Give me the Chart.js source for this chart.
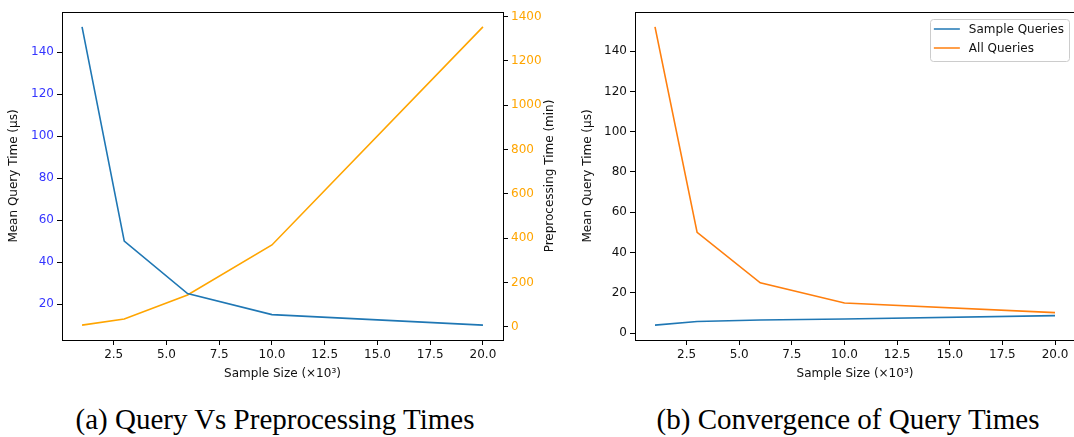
<!DOCTYPE html>
<html><head><meta charset="utf-8">
<script src="https://cdn.jsdelivr.net/npm/chart.js@4"></script>
<style>
body{margin:0;width:1074px;height:437px;overflow:hidden;background:#fff;position:relative;}
#c1{position:absolute;left:0;top:0;}
#c2{position:absolute;left:575px;top:0;}
.cap{position:absolute;top:402px;font-family:"Liberation Serif",serif;font-size:29px;color:#000;white-space:nowrap;transform:translateX(-50%);line-height:34px;}
</style></head><body>
<canvas id="c1" width="570" height="390"></canvas>
<canvas id="c2" width="505" height="390"></canvas>
<div class="cap" style="left:275px">(a) Query Vs Preprocessing Times</div>
<div class="cap" style="left:848px">(b) Convergence of Query Times</div>
<script>
const sampleSizes=[1,3,6,10,20];
const meanQueryTime=[152,50,25,15,10];
const preprocessingTime=[7,35,143,369,1354];
const sampleQueries=[4,5.8,6.5,7,8.7];
const allQueries=[152,50,25,15,10.2];
const xTicks=[2.5,5,7.5,10,12.5,15,17.5,20];
const leftYTicks=[20,40,60,80,100,120,140];
const preTicks=[0,200,400,600,800,1000,1200,1400];
const convTicks=[0,20,40,60,80,100,120,140];

const FONT={family:'"DejaVu Sans", sans-serif',size:12};
const pts=(ys)=>sampleSizes.map((x,i)=>({x:x,y:ys[i]}));
const fixTicks=(arr)=>(s)=>{s.ticks=arr.map(v=>({value:v}));};
const plain=(v)=>String(v);

const frame={id:'frame',afterDatasetsDraw(chart){
  const a=chart.chartArea,c=chart.ctx;c.save();c.strokeStyle='#000';c.lineWidth=1;
  c.strokeRect(Math.round(a.left)+0.5,Math.round(a.top)+0.5,Math.round(a.right-a.left),Math.round(a.bottom-a.top));c.restore();}};

const rightTitle={id:'rightTitle',afterDraw(chart,args,opts){
  if(!opts.text)return;const c=chart.ctx;c.save();c.font='12px "DejaVu Sans"';c.fillStyle='#111';
  c.textAlign='center';c.textBaseline='middle';c.translate(opts.x,(chart.chartArea.top+chart.chartArea.bottom)/2);
  c.rotate(-Math.PI/2);c.fillText(opts.text,0,0);c.restore();}};

const innerLegend={id:'innerLegend',afterDraw(chart,args,opts){
  if(!opts.show)return;const c=chart.ctx,a=chart.chartArea;c.save();c.font='12px "DejaVu Sans"';
  const ds=chart.data.datasets;let tw=0;ds.forEach(d=>{tw=Math.max(tw,c.measureText(d.label).width);});
  const w=4+26+9+tw+5,h=ds.length*19+4;const x=a.right-6-w,y=a.top+7;
  c.fillStyle='rgba(255,255,255,0.85)';c.strokeStyle='#cccccc';c.lineWidth=1;
  c.beginPath();c.roundRect(Math.round(x)+0.5,Math.round(y)+0.5,Math.round(w),Math.round(h),3);c.fill();c.stroke();
  ds.forEach((d,i)=>{const cy=y+10+i*19;c.strokeStyle=d.borderColor;c.lineWidth=1.5;c.beginPath();c.moveTo(x+4,cy);c.lineTo(x+30,cy);c.stroke();
    c.fillStyle='#111';c.textBaseline='middle';c.textAlign='left';c.fillText(d.label,x+39,cy+1);});
  c.restore();}};

function xScale(){return {type:'linear',min:0.05,max:20.95,afterBuildTicks:fixTicks(xTicks),
  afterFit:(s)=>{s.height=50;},
  ticks:{font:FONT,color:'#111',padding:3,maxRotation:0,minRotation:0,callback:(v)=>Number(v).toFixed(1)},
  grid:{display:true,drawOnChartArea:false,drawTicks:true,tickLength:5,color:'#000'},
  border:{display:true,color:'#000',width:1},
  title:{display:true,text:'Sample Size (×10³)',font:FONT,color:'#111',padding:{top:0,bottom:9}}};}

new Chart(document.getElementById('c1'),{type:'line',
  data:{datasets:[
    {label:'Mean Query Time',data:pts(meanQueryTime),borderColor:'#1f77b4',borderWidth:1.6,pointRadius:0,yAxisID:'y',tension:0},
    {label:'Preprocessing Time',data:pts(preprocessingTime),borderColor:'#ffa500',borderWidth:1.6,pointRadius:0,yAxisID:'y2',tension:0}]},
  options:{responsive:false,animation:false,layout:{padding:{top:12}},
    plugins:{legend:{display:false},tooltip:{enabled:false},rightTitle:{text:'Preprocessing Time (min)',x:550},innerLegend:{show:false}},
    scales:{x:xScale(),
      y:{type:'linear',position:'left',min:2.9,max:159.1,afterBuildTicks:fixTicks(leftYTicks),afterFit:(s)=>{s.width=62;},
        ticks:{font:FONT,color:'#3535ff',padding:3,callback:plain},
        grid:{display:true,drawOnChartArea:false,drawTicks:true,tickLength:5,color:'#000'},border:{display:true,color:'#000'},
        title:{display:true,text:'Mean Query Time (μs)',font:FONT,color:'#111',padding:{top:7,bottom:0}}},
      y2:{type:'linear',position:'right',min:-60,max:1421,afterBuildTicks:fixTicks(preTicks),afterFit:(s)=>{s.width=67;},
        ticks:{font:FONT,color:'#ffa500',padding:3,callback:plain},
        grid:{display:true,drawOnChartArea:false,drawTicks:true,tickLength:5,color:'#000'},border:{display:true,color:'#000'},
        title:{display:false}}}},
  plugins:[frame,rightTitle,innerLegend]});

new Chart(document.getElementById('c2'),{type:'line',
  data:{datasets:[
    {label:'Sample Queries',data:pts(sampleQueries),borderColor:'#1f77b4',borderWidth:1.6,pointRadius:0,tension:0},
    {label:'All Queries',data:pts(allQueries),borderColor:'#ff7f0e',borderWidth:1.6,pointRadius:0,tension:0}]},
  options:{responsive:false,animation:false,layout:{padding:{top:12,right:5}},
    plugins:{legend:{display:false},tooltip:{enabled:false},rightTitle:{text:''},innerLegend:{show:true}},
    scales:{x:xScale(),
      y:{type:'linear',position:'left',min:-3.4,max:159.4,afterBuildTicks:fixTicks(convTicks),afterFit:(s)=>{s.width=60;},
        ticks:{font:FONT,color:'#111',padding:3,callback:plain},
        grid:{display:true,drawOnChartArea:false,drawTicks:true,tickLength:5,color:'#000'},border:{display:true,color:'#000'},
        title:{display:true,text:'Mean Query Time (μs)',font:FONT,color:'#111',padding:{top:6,bottom:0}}}}},
  plugins:[frame,rightTitle,innerLegend]});
</script>
</body></html>
